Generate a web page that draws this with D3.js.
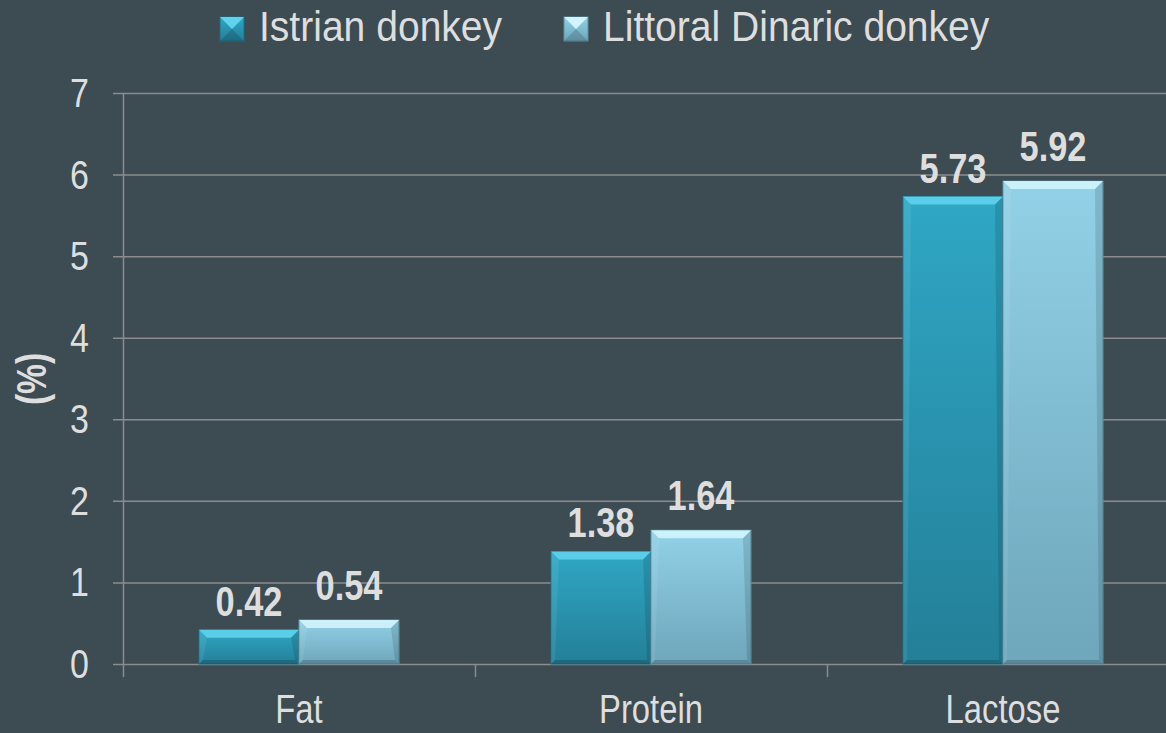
<!DOCTYPE html>
<html>
<head>
<meta charset="utf-8">
<script src="https://cdn.jsdelivr.net/npm/d3@7"></script>
<style>
  html, body { margin: 0; padding: 0; background: #3d4b53; }
  svg { display: block; }
  text { font-family: "Liberation Sans Narrow", "Arial Narrow", "Liberation Sans", Arial, sans-serif; fill: #dedede; }
</style>
</head>
<body>
<svg id="chart" width="1166" height="733"></svg>
<script>
// カテゴリとシリーズ
var categories = ["Fat", "Protein", "Lactose"];
var seriesNames = ["Istrian donkey", "Littoral Dinaric donkey"];
var istrian = [0.42, 1.38, 5.73];
var littoral = [0.54, 1.64, 5.92];
var yTicks = [0, 1, 2, 3, 4, 5, 6, 7];

var svg = d3.select("#chart");
var W = 1166, H = 733;
var pLeft = 123, pRight = 1179, pTop = 93, pBottom = 664;

// 色（上面の面取り・本体の上・本体の下）
var colors = [
  { bevel: "#5fd3ec", top: "#2fa7c5", bot: "#247f98", edge: "#1d6e84" },
  { bevel: "#d2f4fc", top: "#92d1e7", bot: "#6ea6bb", edge: "#5d8fa1" }
];

var x0 = d3.scaleBand().domain(categories).range([pLeft, pRight]).paddingInner(0).paddingOuter(0);
var x1 = d3.scaleBand().domain([0, 1]).range([0, x0.bandwidth()]).paddingOuter(0.76).paddingInner(0);
var y = d3.scaleLinear().domain([0, 7]).range([pBottom, pTop]);

var defs = svg.append("defs");
colors.forEach(function(c, i){
  var g = defs.append("linearGradient").attr("id", "grad" + i).attr("x1", 0).attr("y1", 0).attr("x2", 0).attr("y2", 1);
  g.append("stop").attr("offset", "0%").attr("stop-color", c.top);
  g.append("stop").attr("offset", "100%").attr("stop-color", c.bot);
});

// 横に縮めたテキストを置く
function label(parent, x, yy, str, size, sx, anchor, bold){
  parent.append("text")
    .attr("transform", "translate(" + x + "," + yy + ") scale(" + sx + ",1)")
    .attr("text-anchor", anchor).attr("font-size", size)
    .attr("font-weight", bold ? "bold" : "normal")
    .text(str);
}

// グリッド線
svg.append("g").selectAll("line").data(yTicks).enter().append("line")
  .attr("x1", pLeft - 10).attr("x2", W)
  .attr("y1", function(d){ return y(d) + 0.5; }).attr("y2", function(d){ return y(d) + 0.5; })
  .attr("stroke", "#8c8c8c").attr("stroke-width", 1.5);

// Y軸
svg.append("line").attr("x1", pLeft + 0.5).attr("x2", pLeft + 0.5).attr("y1", pTop).attr("y2", pBottom + 13)
  .attr("stroke", "#8c8c8c").attr("stroke-width", 1.5);

// X軸の目盛り
svg.append("g").selectAll("line").data(categories.slice(1)).enter().append("line")
  .attr("x1", function(d){ return x0(d) + 0.5; }).attr("x2", function(d){ return x0(d) + 0.5; })
  .attr("y1", pBottom).attr("y2", pBottom + 13)
  .attr("stroke", "#8c8c8c").attr("stroke-width", 1.5);

// Y軸ラベル
var yl = svg.append("g");
yTicks.forEach(function(d){ label(yl, 89, y(d) + 14, d, 40, 0.85, "end", false); });

svg.append("text").attr("transform", "translate(46,379) rotate(-90) scale(0.8,1)")
  .attr("text-anchor", "middle").attr("font-size", 42).attr("font-weight", "bold")
  .text("(%)");

// カテゴリラベル（下端で切れないように少し上げる）
var xl = svg.append("g");
categories.forEach(function(c){ label(xl, x0(c) + x0.bandwidth() / 2, 723, c, 40, 0.82, "middle", false); });

// 棒グラフ
var rows = [];
categories.forEach(function(c, i){
  rows.push({ cat: c, s: 0, v: istrian[i] });
  rows.push({ cat: c, s: 1, v: littoral[i] });
});

var bars = svg.append("g").selectAll("g").data(rows).enter().append("g");

function bx(d){ return x0(d.cat) + x1(d.s); }

bars.append("rect")
  .attr("x", bx).attr("y", function(d){ return y(d.v); })
  .attr("width", x1.bandwidth()).attr("height", function(d){ return pBottom - y(d.v); })
  .attr("fill", function(d){ return "url(#grad" + d.s + ")"; })
  .attr("stroke", function(d){ return colors[d.s].edge; }).attr("stroke-width", 1);

// 上面の面取り
var bev = 8, side = 4;
bars.append("polygon")
  .attr("points", function(d){
    var xa = bx(d), xb = xa + x1.bandwidth(), yt = y(d.v);
    return [[xa, yt], [xb, yt], [xb - bev, yt + bev], [xa + bev, yt + bev]].join(" ");
  })
  .attr("fill", function(d){ return colors[d.s].bevel; }).attr("opacity", 0.9);

// 側面・下面の面取り
bars.append("polygon")
  .attr("points", function(d){
    var xa = bx(d), xb = xa + x1.bandwidth(), yt = y(d.v);
    return [[xb, yt], [xb, pBottom], [xb - side, pBottom - side], [xb - bev, yt + bev]].join(" ");
  })
  .attr("fill", "#000").attr("opacity", 0.12);
bars.append("polygon")
  .attr("points", function(d){
    var xa = bx(d), yt = y(d.v);
    return [[xa, yt], [xa, pBottom], [xa + side, pBottom - side], [xa + bev, yt + bev]].join(" ");
  })
  .attr("fill", "#fff").attr("opacity", 0.08);
bars.append("polygon")
  .attr("points", function(d){
    var xa = bx(d), xb = xa + x1.bandwidth();
    return [[xa, pBottom], [xb, pBottom], [xb - side, pBottom - side], [xa + side, pBottom - side]].join(" ");
  })
  .attr("fill", "#000").attr("opacity", 0.18);

// 値ラベル
bars.each(function(d){
  label(d3.select(this), bx(d) + x1.bandwidth() / 2, y(d.v) - (d.s === 0 ? 14 : 20), d.v.toFixed(2), 43, 0.8, "middle", true);
});

// 凡例
var legendX = [220, 564];
var sw = 24;
var leg = svg.append("g").selectAll("g").data(seriesNames).enter().append("g")
  .attr("transform", function(d, i){ return "translate(" + legendX[i] + ",17)"; });
leg.append("rect").attr("width", sw).attr("height", sw)
  .attr("fill", function(d, i){ return "url(#grad" + i + ")"; })
  .attr("stroke", function(d, i){ return colors[i].edge; });
leg.append("polygon").attr("points", "0,0 " + sw + ",0 " + (sw / 2) + "," + (sw / 2))
  .attr("fill", function(d, i){ return colors[i].bevel; });
leg.append("polygon").attr("points", "0," + sw + " " + sw + "," + sw + " " + (sw / 2) + "," + (sw / 2))
  .attr("fill", "#000").attr("opacity", 0.15);
leg.each(function(d){ label(d3.select(this), 39, 24, d, 42, 0.93, "start", false); });
</script>
</body>
</html>
